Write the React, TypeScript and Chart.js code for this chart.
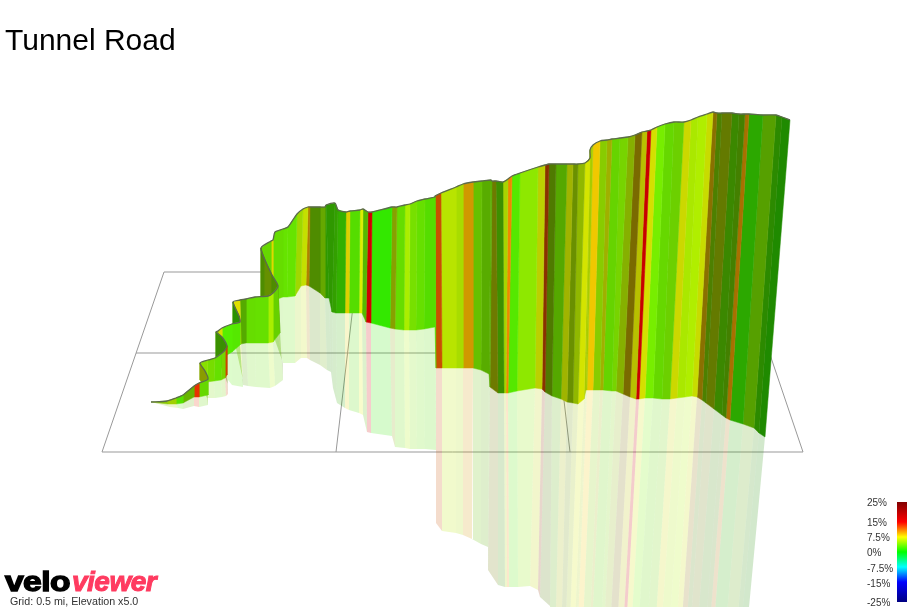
import React, { useEffect, useRef } from "react";
import { Chart, registerables } from "chart.js";
Chart.register(...registerables);

const title = "Tunnel Road";
const gridNote = "Grid: 0.5 mi, Elevation x5.0";
const legendLabels = ["25%", "15%", "7.5%", "0%", "-7.5%", "-15%", "-25%"];
const legendLabelY = [503, 523, 538, 553, 569, 584, 603];
const legendStops = ["#800000", "#ff0000", "#ffff00", "#00ff00", "#00ffff", "#0000ff", "#000080"];
const legendStopAt = [0, 0.2, 0.35, 0.5, 0.65, 0.8, 1];

const topX = [151,167,176,183,194,199,208,205,200,208,215,222,225,227,222,216,218,222,232,240,239,233,240,246,255,268,273,278,272,265,261,271,273,275,283,288,297,303,308,310,320,325,326,335,338,346,350,360,363,368,372,392,397,405,410,417,425,435,435,441,456,463,473,482,491,492,496,503,508,512,520,538,545,549,556,567,573,578,585,590,590,593,600,607,612,620,628,635,642,647,651,657,665,674,684,691,698,707,713,717,722,732,739,745,749,763,776,782,790];
const topY = [402,401,398,395,386,383,379,371,363,360,358,353,350,346,337,332,331,328,324,322,316,302,300,299,297,296,293,286,275,260,248,241,240,232,229,227,214,209,207,207,207,207,205,203,210,212,211,210,209,212,212,207,207,205,204,201,199,197,196,193,187,184,182,181,180,181,181,182,179,176,173,167,165,164,164,164,164,164,163,158,150,145,141,140,139,138,137,135,132,131,130,127,124,122,122,120,117,114,112,113,113,113,114,114,114,115,115,117,120];
const baseX = [151,168,176,183,194,199,208,205,200,207,214,221,225,227,222,216,218,222,232,240,239,233,241,246,255,268,273,280,272,265,261,271,273,275,283,287,295,301,306,309,320,325,329,332,336,345,349,359,362,366,371,390,395,404,409,416,424,435,436,442,456,463,473,481,489,490,498,504,506,508,517,535,542,545,552,561,567,573,578,584,586,587,593,600,603,612,616,623,630,636,639,645,653,662,670,677,685,692,697,702,706,714,722,726,730,743,754,759,765];
const baseY = [402,404,404,403,397,397,395,387,380,382,381,380,378,375,368,360,360,358,352,345,342,335,344,343,343,343,342,333,322,310,300,300,300,300,297,297,296,286,285,286,293,298,298,312,313,313,313,313,313,322,323,328,329,330,330,330,329,327,368,368,368,368,368,370,374,387,393,393,393,393,391,388,389,392,396,399,402,403,404,399,390,390,390,390,390,391,391,394,397,399,399,398,398,399,399,398,397,396,397,400,403,409,415,418,420,424,428,433,437];
const mirrorX = [151,170,178,183,194,199,208,207,206,207,215,222,226,228,228,228,228,228,232,243,243,243,243,248,256,270,275,283,283,283,283,283,283,283,283,287,295,301,307,310,320,327,331,333,337,345,349,359,363,367,371,392,395,405,410,417,425,436,436,442,456,463,472,481,488,488,498,505,507,509,518,530,538,540,550,555,561,565,569,574,576,577,582,589,591,600,603,609,616,622,625,630,637,646,654,660,668,675,680,685,689,696,704,708,712,724,735,739,745];
const mirrorY = [402,407,408,409,406,407,405,398,396,398,398,397,396,394,385,380,380,380,385,387,382,380,385,386,387,388,386,380,365,363,363,363,363,363,363,363,363,358,358,360,365,370,372,388,403,408,410,413,415,432,433,436,447,448,449,449,449,450,523,531,533,535,539,544,547,570,585,587,587,587,587,586,590,597,606,650,650,650,650,650,650,650,650,650,650,650,650,650,650,650,650,650,650,650,650,650,650,650,650,650,650,650,650,650,650,650,650,650,650];
const stripColors = ["#88c800","#a0d000","#55e000","#66b400","#e83000","#66d800","#8a9c00","#8a9c00","#88e000","#77dd00","#66e000","#77d400","#d04000","#3a9000","#3a9000","#88c800","#d8e000","#55ee00","#55e800","#2a9000","#2a9000","#e0e000","#55aa00","#66dd00","#66e000","#aaee00","#66d000","#4f8c00","#669000","#4f8c00","#66d800","#e0d800","#66dd00","#66dd00","#66e400","#66e400","#a0d800","#c4e000","#b08000","#4f8c00","#66a800","#2f9800","#2f9800","#33a000","#33b000","#ddd000","#55dd00","#ddee00","#55b800","#d00000","#33e800","#88a000","#66dd00","#aaee00","#77e000","#66e000","#55dd00","#55dd00","#c85000","#b8e400","#a8dc00","#d09800","#66c000","#58ac00","#58ac00","#6e7a00","#3d9000","#a8d400","#ee8800","#55e800","#8ee800","#bcd000","#8a3000","#4f7a00","#55a800","#a0b400","#6a9000","#90b800","#d4e400","#a8cc00","#a8cc00","#f0c800","#88cc00","#a0b000","#66d400","#77d400","#86b000","#7a6a00","#b8c000","#c80000","#d4e000","#77ee00","#66d800","#6cd000","#ccd800","#aae800","#b0ee00","#c8dc00","#8a7000","#4d8000","#647a00","#3b8800","#448000","#a87000","#2ca800","#56a000","#2c8a00","#1f8a00"];

// floor grid lines as [x1, y1, x2, y2]
const gridLines = [
  [164, 272, 742, 272],
  [136, 353, 769, 353],
  [102, 452, 803, 452],
  [102, 452, 164, 272],
  [336, 452, 357, 272],
  [570, 452, 549, 272],
  [803, 452, 742, 272],
];

function poly(a: number[], b: number[], c: number[], d: number[], i: number) {
  return [
    { x: a[i], y: b[i] },
    { x: a[i + 1], y: b[i + 1] },
    { x: c[i + 1], y: d[i + 1] },
    { x: c[i], y: d[i] },
    { x: a[i], y: b[i] },
  ];
}

const abs = (left: number, top: number): React.CSSProperties => ({
  position: "absolute",
  left,
  top,
  whiteSpace: "nowrap",
  fontFamily: "'Liberation Sans', Arial, sans-serif",
  lineHeight: 1,
});

export default function App() {
  const ref = useRef<HTMLCanvasElement>(null);
  useEffect(() => {
    const canvas = ref.current!;
    const ctx = canvas.getContext("2d")!;
    const grad = ctx.createLinearGradient(0, 502, 0, 602);
    legendStops.forEach((c, i) => grad.addColorStop(legendStopAt[i], c));

    const base = { type: "scatter", showLine: true, pointRadius: 0, tension: 0 };
    const datasets: any[] = [];
    gridLines.forEach((g) =>
      datasets.push({
        ...base,
        data: [{ x: g[0], y: g[1] }, { x: g[2], y: g[3] }],
        borderColor: "#999999",
        borderWidth: 1,
        fill: false,
        order: 5000,
      })
    );
    stripColors.forEach((c, i) => {
      datasets.push({
        ...base,
        data: poly(baseX, baseY, mirrorX, mirrorY, i),
        borderWidth: 0,
        borderColor: "transparent",
        backgroundColor: c + "33",
        fill: "shape",
        order: 2000 + i,
      });
      datasets.push({
        ...base,
        data: poly(topX, topY, baseX, baseY, i),
        borderWidth: 0.5,
        borderColor: c,
        backgroundColor: c,
        fill: "shape",
        order: 10 + i,
      });
    });
    datasets.push({
      ...base,
      data: topX.map((x, i) => ({ x, y: topY[i] })),
      borderColor: "#5c6b4c",
      borderWidth: 1.3,
      tension: 0.25,
      fill: false,
      order: 1,
    });
    datasets.push({
      ...base,
      data: [
        { x: 897, y: 502 },
        { x: 907, y: 502 },
        { x: 907, y: 602 },
        { x: 897, y: 602 },
        { x: 897, y: 502 },
      ],
      borderWidth: 0,
      borderColor: "transparent",
      backgroundColor: grad,
      fill: "shape",
      order: 0,
    });

    const chart = new Chart(canvas, {
      type: "scatter",
      data: { datasets },
      options: {
        animation: false,
        responsive: false,
        devicePixelRatio: 1,
        layout: { padding: 0 },
        plugins: { legend: { display: false }, tooltip: { enabled: false }, title: { display: false } },
        scales: {
          x: { type: "linear", min: 0, max: 907, display: false },
          y: { type: "linear", min: 0, max: 607, reverse: true, display: false },
        },
      },
    } as any);
    return () => chart.destroy();
  }, []);

  return (
    <div style={{ position: "fixed", left: 0, top: 0, width: 907, height: 607, overflow: "hidden", background: "#fff" }}>
      <canvas ref={ref} width={907} height={607} style={{ position: "absolute", left: 0, top: 0, width: 907, height: 607 }} />
      <div style={{ ...abs(5, 25), fontSize: 30, color: "#000" }}>{title}</div>
      {legendLabels.map((t, i) => (
        <div key={t} style={{ ...abs(867, legendLabelY[i] - 5), fontSize: 10, color: "#333" }}>{t}</div>
      ))}
      <div style={{ ...abs(5, 568), fontSize: 28, fontWeight: 700, color: "#000", WebkitTextStroke: "1.4px #000", transform: "scaleX(1.2)", transformOrigin: "left top", letterSpacing: -0.5 }}>velo</div>
      <div style={{ ...abs(72, 568), fontSize: 28, fontWeight: 700, fontStyle: "italic", color: "#ff3b60", WebkitTextStroke: "1px #ff3b60", letterSpacing: -0.5 }}>viewer</div>
      <div style={{ ...abs(10, 596), fontSize: 10.7, color: "#333" }}>{gridNote}</div>
    </div>
  );
}
